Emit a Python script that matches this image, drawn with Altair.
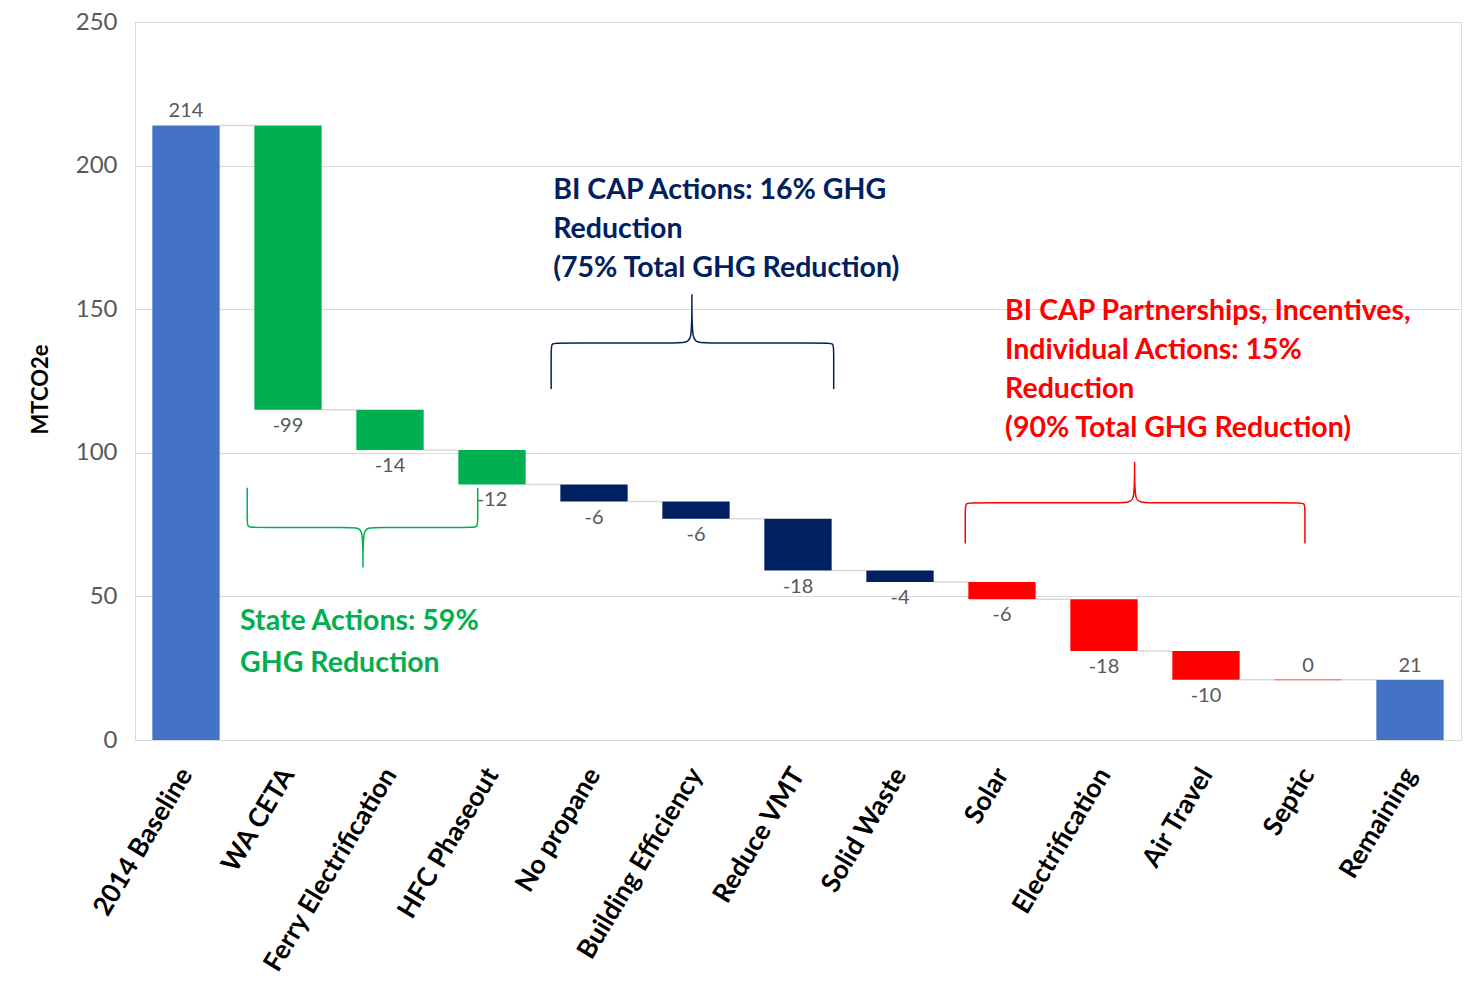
import json
import altair as alt
import pandas as pd

# ---- data ----
categories = ["2014 Baseline", "WA CETA", "Ferry Electrification", "HFC Phaseout",
              "No propane", "Building Efficiency", "Reduce VMT", "Solid Waste",
              "Solar", "Electrification", "Air Travel", "Septic", "Remaining"]
values = [214, -99, -14, -12, -6, -6, -18, -4, -6, -18, -10, 0, 21]
kinds = ["total"] + ["delta"] * 11 + ["total"]
groups = ["base", "state", "state", "state", "cap", "cap", "cap", "cap",
          "partner", "partner", "partner", "partner", "base"]
group_colors = {"base": "#4472C4", "state": "#00B050", "cap": "#002060", "partner": "#FF0000"}

y_ticks = [0, 50, 100, 150, 200, 250]

# brace annotations (x in category index units, y in MTCO2e)
brace_x0 = [0.60, 3.58, 7.64]
brace_xm = [1.735, 4.96, 9.30]
brace_x1 = [2.86, 6.35, 10.97]
brace_yend = [87.8, 122.2, 68.4]
brace_ybar = [74.0, 138.2, 82.6]
brace_ytip = [60.1, 155.2, 96.9]
brace_groups = ["state", "cap", "partner"]

note_texts = [
    "State Actions: 59%\nGHG Reduction",
    "BI CAP Actions: 16% GHG\nReduction\n(75% Total GHG Reduction)",
    "BI CAP Partnerships, Incentives,\nIndividual Actions: 15%\nReduction\n(90% Total GHG Reduction)",
]
note_x = [0.53, 3.60, 8.03]
note_y = [38.2, 188.5, 146.2]
note_line_heights = [42, 39, 39]

# ---- build tables ----
rows = []
running = 0
for i, (c, v, k, g) in enumerate(zip(categories, values, kinds, groups)):
    if k == "total":
        start, end = 0, v
        running = v
    else:
        start = running
        end = running + v
        running = end
    top, bottom = max(start, end), min(start, end)
    above = (k == "total") or (v == 0)
    rows.append({
        "idx": i, "cat": c, "start": start, "end": end,
        "xl": i - 0.33, "xr": i + 0.33,
        "color": group_colors[g],
        "label": str(v),
        "ylab": top if above else bottom,
        "pos": "above" if above else "below",
        "zero": v == 0,
    })
bars = pd.DataFrame(rows)

conn = pd.DataFrame([
    {"x": rows[i]["idx"] + 0.33, "x2": rows[i + 1]["idx"] - 0.33, "y": rows[i]["end"]}
    for i in range(len(rows) - 1)
])

brace_rows = []
rx, ry = 0.07, 2.6
for b in range(len(brace_x0)):
    x0, xm, x1 = brace_x0[b], brace_xm[b], brace_x1[b]
    ye, yb, yt = brace_yend[b], brace_ybar[b], brace_ytip[b]
    s = 1 if yb > ye else -1
    pts = [(x0, ye), (x0, yb - s * ry), (x0, yb), (x0 + rx, yb), (xm - rx, yb), (xm, yb),
           (xm, yt), (xm, yt), (xm, yt), (xm, yb), (xm + rx, yb), (x1 - rx, yb), (x1, yb),
           (x1, yb - s * ry), (x1, ye)]
    for k, (px, py) in enumerate(pts):
        brace_rows.append({"b": b, "k": k, "x": px, "y": py,
                           "color": group_colors[brace_groups[b]]})
braces = pd.DataFrame(brace_rows)

# ---- chart ----
FONT = "Lato"
xscale = alt.Scale(domain=[-0.5, len(categories) - 0.5], nice=False, zero=False)
yscale = alt.Scale(domain=[0, 250], nice=False)
label_expr = json.dumps(categories) + "[datum.value]"

x_axis = alt.Axis(values=list(range(len(categories))), labelExpr=label_expr, title=None,
                  grid=False, ticks=False, domain=False, labelAngle=-59, labelFont=FONT,
                  labelFontSize=26.5, labelFontWeight="bold", labelColor="#000000",
                  labelPadding=30, labelOverlap=False, labelBound=False, labelFlush=False,
                  labelLimit=0)
y_axis = alt.Axis(values=y_ticks, title="MTCO2e", titleFont=FONT, titleFontSize=22,
                  titleFontWeight="bold", titleColor="#000000", titleX=-95, titleY=367,
                  titleBaseline="middle", titleAngle=-90,
                  labelFont=FONT, labelFontSize=24, labelColor="#595959", labelPadding=18,
                  ticks=False, domainColor="#d9d9d9", gridColor="#d9d9d9", gridWidth=1)

base = alt.Chart(bars)

bar_layer = base.mark_bar().encode(
    x=alt.X("xl:Q", scale=xscale, axis=x_axis),
    x2="xr:Q",
    y=alt.Y("start:Q", scale=yscale, axis=y_axis),
    y2="end:Q",
    color=alt.Color("color:N", scale=None),
)

zero_layer = base.transform_filter("datum.zero").mark_rule(strokeWidth=1.5, opacity=0.5).encode(
    x="xl:Q", x2="xr:Q", y="end:Q", color=alt.Color("color:N", scale=None)
)

conn_layer = alt.Chart(conn).mark_rule(color="#d9d9d9", strokeWidth=1.5).encode(
    x="x:Q", x2="x2:Q", y="y:Q"
)

lab_above = base.transform_filter("datum.pos == 'above'").mark_text(
    font=FONT, fontSize=20, color="#595959", baseline="alphabetic", dy=-8
).encode(x="idx:Q", y="ylab:Q", text="label:N")

lab_below = base.transform_filter("datum.pos == 'below'").mark_text(
    font=FONT, fontSize=20, color="#595959", baseline="alphabetic", dy=22
).encode(x="idx:Q", y="ylab:Q", text="label:N")

brace_layer = alt.Chart(braces).mark_line(interpolate="basis", strokeWidth=1.5).encode(
    x="x:Q", y="y:Q", order="k:Q", detail="b:N", color=alt.Color("color:N", scale=None)
)

note_layers = []
for t, nx, ny, lh, g in zip(note_texts, note_x, note_y, note_line_heights, brace_groups):
    df = pd.DataFrame([{"x": nx, "y": ny, "t": t}])
    note_layers.append(
        alt.Chart(df).mark_text(font=FONT, fontSize=28.5, fontWeight="bold", align="left",
                                baseline="alphabetic", lineBreak="\n", lineHeight=lh,
                                color=group_colors[g]).encode(x="x:Q", y="y:Q", text="t:N")
    )

chart = alt.layer(conn_layer, bar_layer, zero_layer, lab_above, lab_below, brace_layer,
                  *note_layers).properties(
    width=1326, height=718,
    autosize=alt.AutoSizeParams(type="none"),
    padding={"left": 127, "top": 14, "right": 8, "bottom": 240},
).configure_view(stroke=None).configure(background="white")

chart.save("out.html", embed_options={"renderer": "svg", "actions": False})
